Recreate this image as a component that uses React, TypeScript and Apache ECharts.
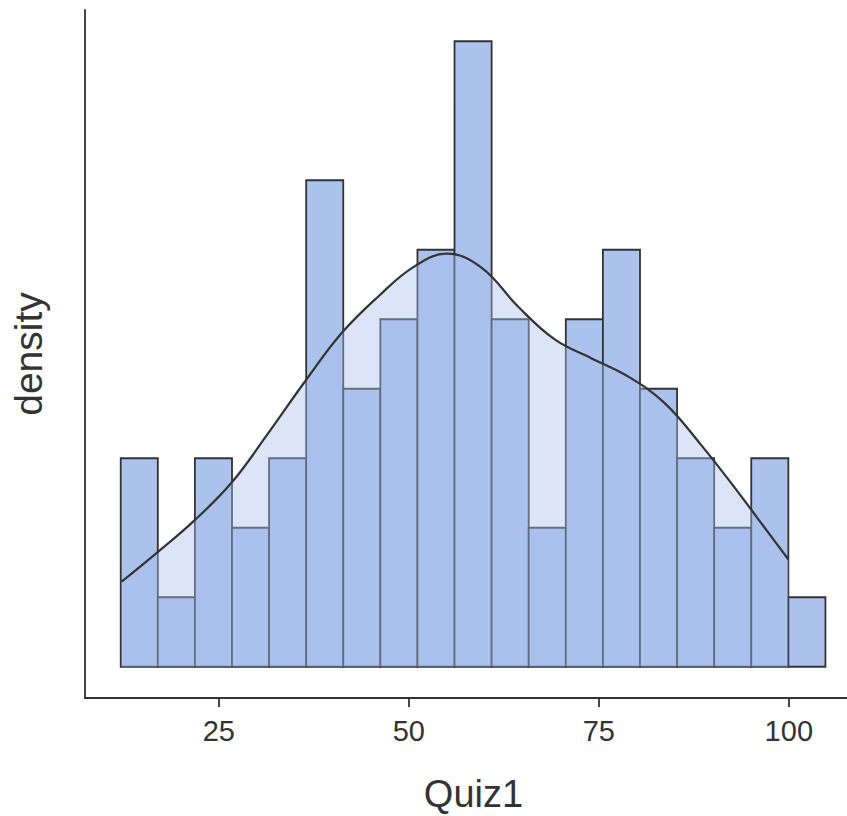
import React, { useEffect, useRef } from "react";
import * as echarts from "echarts";

// Histogram bin edges (Quiz1 score) and counts per bin
const binEdges = [12.1, 16.98, 21.86, 26.74, 31.62, 36.5, 41.38, 46.26, 51.14, 56.02, 60.9, 65.78, 70.66, 75.54, 80.42, 85.3, 90.18, 95.06, 99.94, 104.82];
const binCounts = [3, 1, 3, 2, 3, 7, 4, 5, 6, 9, 5, 2, 5, 6, 4, 3, 2, 3, 1];

// Kernel density estimate (scaled to count units)
const kdeX = [12.22, 17.04, 21.87, 26.7, 31.51, 36.34, 41.17, 45.99, 50.6, 55.0, 59.6, 64.4, 69.2, 74.0, 78.8, 83.6, 88.4, 93.2, 97.5, 99.93];
const kdeY = [1.224, 1.656, 2.113, 2.65, 3.361, 4.104, 4.801, 5.328, 5.75, 5.943, 5.74, 5.18, 4.71, 4.44, 4.18, 3.8, 3.2, 2.53, 1.9, 1.547];

const xTicks = [25, 50, 75, 100];

const FONT = '"Liberation Sans", Arial, Helvetica, sans-serif';
const BAR_COLOR = "#aac2ec";
const INK = "#333333";

export default function App() {
  const ref = useRef<HTMLDivElement>(null);

  useEffect(() => {
    if (!ref.current) return;
    const chart = echarts.init(ref.current, null, { renderer: "svg" });

    const histData = binCounts.map((c, i) => [binEdges[i], binEdges[i + 1], c]);
    const kdeData = kdeX.map((x, i) => [x, kdeY[i]]);

    chart.setOption({
      animation: false,
      backgroundColor: "#ffffff",
      grid: { left: 85, right: 0, top: 10, bottom: 118, outerBoundsMode: "none", containLabel: false },
      xAxis: {
        type: "value",
        min: 7.4,
        max: 109.63,
        name: "Quiz1",
        nameLocation: "middle",
        nameGap: 77,
        nameTextStyle: { fontFamily: FONT, fontSize: 38, color: INK },
        axisLine: { show: true, onZero: false, lineStyle: { color: INK, width: 1.8 } },
        axisTick: { show: true, length: 9, lineStyle: { color: INK, width: 1.8 }, customValues: xTicks },
        axisLabel: { show: true, customValues: xTicks, margin: 18, fontFamily: FONT, fontSize: 29, color: INK },
        splitLine: { show: false },
      },
      yAxis: {
        type: "value",
        min: -0.45,
        max: 9.45,
        name: "density",
        nameLocation: "middle",
        nameRotate: 90,
        nameGap: 37,
        nameTextStyle: { fontFamily: FONT, fontSize: 39, color: INK },
        axisLine: { show: true, lineStyle: { color: INK, width: 1.8 } },
        axisTick: { show: false },
        axisLabel: { show: false },
        splitLine: { show: false },
      },
      series: [
        {
          type: "custom",
          z: 2,
          encode: { x: [0, 1], y: 2 },
          data: histData,
          renderItem: (params: any, api: any) => {
            const p0 = api.coord([api.value(0), api.value(2)]);
            const p1 = api.coord([api.value(1), 0]);
            return {
              type: "rect",
              shape: { x: p0[0], y: p0[1], width: p1[0] - p0[0], height: p1[1] - p0[1] },
              style: { fill: BAR_COLOR, stroke: INK, lineWidth: 1.8 },
            };
          },
        },
        {
          type: "line",
          z: 3,
          data: kdeData,
          smooth: 0.4,
          showSymbol: false,
          symbol: "none",
          lineStyle: { color: INK, width: 2.2 },
          areaStyle: { color: BAR_COLOR, opacity: 0.42, origin: 0 },
        },
      ],
    });

    return () => chart.dispose();
  }, []);

  return (
    <div style={{ position: "fixed", left: 0, top: 0, width: 847, height: 816, overflow: "hidden", background: "#fff" }}>
      <div ref={ref} style={{ width: 862, height: 816 }} />
    </div>
  );
}
